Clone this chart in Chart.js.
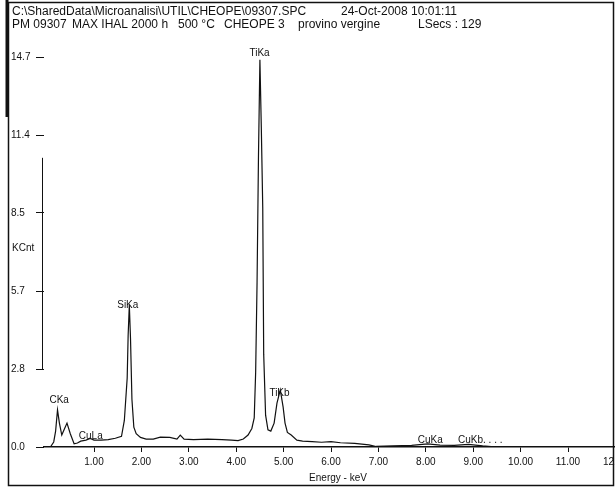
<!DOCTYPE html>
<html>
<head>
<meta charset="utf-8">
<script src="https://cdn.jsdelivr.net/npm/chart.js@4.4.1/dist/chart.umd.min.js"></script>
<style>
html,body{margin:0;padding:0;overflow:hidden;background:#fff;}
#wrap{position:relative;width:646px;height:488px;}
</style>
</head>
<body>
<div id="wrap"><canvas id="c"></canvas></div>
<script>
// ---- data ----
const energyKeV = [-0.2,0.08,0.15,0.19,0.23,0.27,0.32,0.38,0.43,0.50,0.58,0.65,0.72,0.83,0.92,1.00,1.15,1.30,1.45,1.58,1.64,1.67,1.70,1.72,1.745,1.77,1.80,1.84,1.89,1.98,2.10,2.25,2.40,2.60,2.75,2.82,2.90,3.10,3.40,3.70,3.90,4.04,4.15,4.25,4.33,4.38,4.41,4.44,4.47,4.50,4.53,4.56,4.58,4.62,4.67,4.73,4.80,4.86,4.93,4.99,5.03,5.08,5.16,5.28,5.40,5.60,5.80,6.00,6.20,6.50,6.80,6.95,7.30,7.70,8.04,8.30,8.60,8.90,9.20,9.50,12.4];
const countsKCnt = [0,0,0.19,0.6,1.4,0.9,0.45,0.7,0.9,0.5,0.12,0.15,0.22,0.26,0.32,0.26,0.26,0.28,0.33,0.4,1.0,1.8,2.6,4.2,5.35,4.1,1.8,0.75,0.5,0.36,0.3,0.3,0.37,0.36,0.3,0.45,0.3,0.28,0.3,0.28,0.26,0.24,0.3,0.45,0.7,1.1,2.8,6.2,11.0,14.6,12.0,9.0,3.5,1.2,0.65,0.6,0.9,1.65,2.15,1.5,0.9,0.55,0.45,0.26,0.22,0.2,0.18,0.2,0.16,0.14,0.08,0.02,0.04,0.06,0.12,0.07,0.06,0.1,0.04,0,0];
const xTickValues = [1,2,3,4,5,6,7,8,9,10,11,12];
const yTickValues = [0,2.94,5.88,8.82,11.76,14.7];
const yTickLabels = ['0.0','2.8','5.7','8.5','11.4','14.7'];
const peakNames  = ['CKa','CuLa','SiKa','TiKa','TiKb','CuKa','CuKb. . . .'];
const peakEnergy = [0.06,0.68,1.49,4.28,4.70,7.83,8.68];
const peakHeight = [1.77,0.41,5.35,14.85,2.04,0.26,0.26];
const headerLine1 = ['C:\\SharedData\\Microanalisi\\UTIL\\CHEOPE\\09307.SPC','24-Oct-2008 10:01:11'];
const headerLine2 = ['PM 09307','MAX IHAL 2000 h','500 °C','CHEOPE 3','provino vergine','LSecs : 129'];
const yAxisName = 'KCnt';
const xAxisName = 'Energy - keV';

const FONT = '"Liberation Sans", Arial, sans-serif';

const decor = {
  id: 'decor',
  afterDraw(chart) {
    const ctx = chart.ctx;
    const xs = chart.scales.x, ys = chart.scales.y;
    ctx.save();
    ctx.fillStyle = '#111';
    ctx.strokeStyle = '#111';
    // frame
    ctx.lineWidth = 1.5;
    ctx.strokeRect(8.5, 2.5, 605, 483);
    ctx.lineWidth = 3;
    ctx.beginPath(); ctx.moveTo(7, 0); ctx.lineTo(7, 117); ctx.stroke();
    // header
    ctx.font = '12px ' + FONT;
    ctx.textBaseline = 'alphabetic';
    ctx.textAlign = 'left';
    const h1x = [12, 341];
    headerLine1.forEach((t, i) => ctx.fillText(t, h1x[i], 15));
    const h2x = [12, 72, 178, 224, 298, 418];
    headerLine2.forEach((t, i) => ctx.fillText(t, h2x[i], 28));
    // y bracket
    ctx.lineWidth = 1;
    const bx = chart.chartArea.left - 1.5;
    ctx.beginPath();
    ctx.moveTo(bx, ys.getPixelForValue(10.9));
    ctx.lineTo(bx, ys.getPixelForValue(yTickValues[1]));
    ctx.stroke();
    // y axis name
    ctx.font = '10px ' + FONT;
    ctx.textBaseline = 'middle';
    ctx.fillText(yAxisName, 12, ys.getPixelForValue(7.5));
    // peak labels
    ctx.font = '10px ' + FONT;
    peakNames.forEach((n, i) => {
      ctx.fillText(n, xs.getPixelForValue(peakEnergy[i]), ys.getPixelForValue(peakHeight[i]));
    });
    ctx.restore();
  }
};

new Chart(document.getElementById('c'), {
  type: 'line',
  data: {
    datasets: [{
      data: energyKeV.map((e, i) => ({x: e, y: countsKCnt[i]})),
      borderColor: '#111',
      borderWidth: 1.2,
      pointRadius: 0,
      tension: 0,
      fill: false
    }]
  },
  options: {
    responsive: true,
    maintainAspectRatio: false,
    animation: false,
    events: [],
    layout: { padding: { left: 11, right: 14, top: 57, bottom: 4 } },
    plugins: { legend: { display: false }, tooltip: { enabled: false }, title: { display: false } },
    scales: {
      x: {
        type: 'linear',
        min: -0.055,
        max: 12.35,
        afterBuildTicks: s => { s.ticks = xTickValues.map(v => ({value: v})); },
        afterFit: s => { s.height = 37; },
        ticks: { color: '#111', font: { family: FONT, size: 10 }, padding: 4, maxRotation: 0, autoSkip: false,
                 callback: v => Number(v).toFixed(2) },
        grid: { drawOnChartArea: false, drawTicks: true, tickLength: 5, color: '#111', lineWidth: 1 },
        border: { display: true, color: '#111', width: 1.5 },
        title: { display: true, text: xAxisName, color: '#111', font: { family: FONT, size: 10 }, padding: { top: 0, bottom: 0 } }
      },
      y: {
        type: 'linear',
        min: 0,
        max: 14.7,
        afterBuildTicks: s => { s.ticks = yTickValues.map(v => ({value: v})); },
        afterFit: s => { s.width = 33; },
        ticks: { color: '#111', font: { family: FONT, size: 10 }, crossAlign: 'far', autoSkip: false,
                 callback: (v, i) => yTickLabels[i] },
        grid: { drawOnChartArea: false, drawTicks: true, tickLength: 8, color: '#111', lineWidth: 1 },
        border: { display: false }
      }
    }
  },
  plugins: [decor]
});
</script>
</body>
</html>
